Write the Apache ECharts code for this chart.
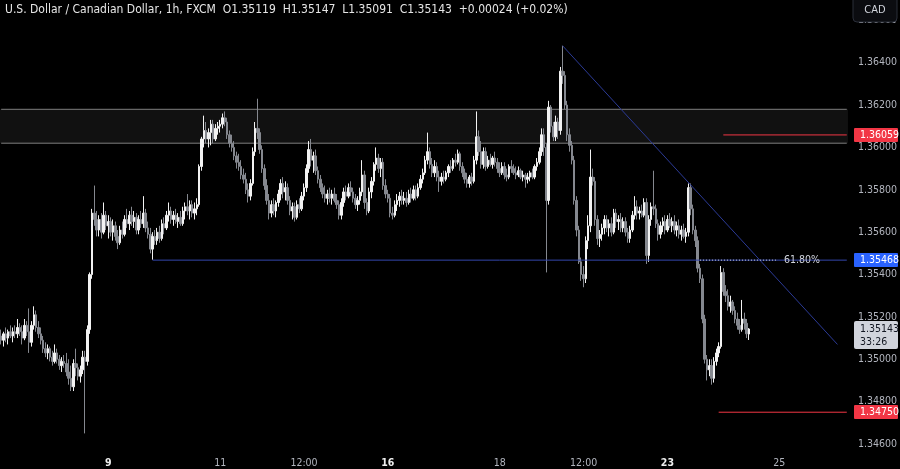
<!DOCTYPE html>
<html><head><meta charset="utf-8">
<script src="https://cdn.jsdelivr.net/npm/echarts@6/dist/echarts.min.js"></script>
<style>html,body{margin:0;padding:0;background:#000;}#c{width:900px;height:469px;}</style>
</head><body><div id="c"></div>
<script>
// trading sessions: [day, firstHour, lastHour] (hourly bars)
const sessions = [[5,2,23],[6,0,16],[8,17,23],[9,0,23],[10,0,23],[11,0,23],[12,0,23],[13,0,16],[15,17,23],
  [16,0,23],[17,0,23],[18,0,23],[19,0,23],[20,0,16],[22,17,23],[23,0,23],[24,0,23],[25,0,23],[26,0,5]];
// tick labels on the time axis: [category, text, bold]
const timeTicks = [['9 00:00','9',true],['11 00:00','11',false],['12 12:00','12:00',false],['16 00:00','16',true],
  ['18 00:00','18',false],['19 12:00','12:00',false],['23 00:00','23',true],['25 00:00','25',false]];
const priceTicks = [1.346,1.348,1.350,1.352,1.354,1.356,1.358,1.360,1.362,1.364,1.366];
// hourly candles [open, high, low, close]
const ohlc = [
[1.3511,1.3514,1.3507,1.3509],[1.3509,1.3513,1.3506,1.3512],[1.3512,1.3515,1.3508,1.3510],[1.3510,1.3514,1.3507,1.3513],
[1.3513,1.3516,1.3510,1.3511],[1.3511,1.3515,1.3508,1.3513],[1.3513,1.3516,1.3510,1.3512],[1.3512,1.3519,1.3510,1.3515],
[1.3515,1.3517,1.3511,1.3513],[1.3513,1.3516,1.3507,1.3510],[1.3510,1.3519,1.3509,1.3516],[1.3516,1.3518,1.3511,1.3513],
[1.3513,1.3524,1.3503,1.3508],[1.3508,1.3518,1.3506,1.3516],[1.3516,1.3525,1.3514,1.3521],[1.3521,1.3523,1.3513,1.3515],
[1.3515,1.3518,1.3510,1.3512],[1.3512,1.3515,1.3507,1.3509],[1.3509,1.3511,1.3503,1.3505],[1.3505,1.3508,1.3501,1.3503],
[1.3503,1.3507,1.3500,1.3505],[1.3505,1.3506,1.3499,1.3501],[1.3501,1.3504,1.3497,1.3499],[1.3499,1.3507,1.3498,1.3503],
[1.3503,1.3505,1.3498,1.3500],[1.3500,1.3502,1.3495,1.3497],[1.3497,1.3501,1.3494,1.3499],[1.3499,1.3502,1.3496,1.3498],
[1.3498,1.3503,1.3492,1.3494],[1.3494,1.3500,1.3488,1.3491],[1.3491,1.3497,1.3485,1.3487],[1.3487,1.3500,1.3485,1.3498],
[1.3498,1.3505,1.3492,1.3496],[1.3496,1.3498,1.3490,1.3492],[1.3492,1.3497,1.3489,1.3495],[1.3495,1.3504,1.3493,1.3501],
[1.3501,1.3504,1.3465,1.3499],[1.3499,1.3516,1.3497,1.3514],[1.3514,1.3541,1.3512,1.3540],[1.3540,1.3571,1.3538,1.3569],
[1.3569,1.3582,1.3563,1.3566],
[1.3566,1.3570,1.3558,1.3561],[1.3561,1.3568,1.3558,1.3566],[1.3566,1.3569,1.3557,1.3560],[1.3560,1.3574,1.3559,1.3568],
[1.3568,1.3570,1.3561,1.3563],[1.3563,1.3568,1.3557,1.3565],[1.3565,1.3567,1.3558,1.3560],[1.3560,1.3566,1.3556,1.3563],
[1.3563,1.3565,1.3556,1.3558],[1.3558,1.3561,1.3552,1.3555],[1.3555,1.3563,1.3554,1.3561],[1.3561,1.3565,1.3557,1.3559],
[1.3559,1.3568,1.3558,1.3566],[1.3566,1.3571,1.3562,1.3564],[1.3564,1.3570,1.3561,1.3568],[1.3568,1.3572,1.3563,1.3565],
[1.3565,1.3570,1.3562,1.3567],[1.3567,1.3569,1.3559,1.3561],[1.3561,1.3568,1.3559,1.3566],[1.3566,1.3570,1.3562,1.3564],
[1.3564,1.3577,1.3562,1.3569],[1.3569,1.3571,1.3560,1.3562],[1.3562,1.3565,1.3557,1.3559],[1.3559,1.3562,1.3550,1.3552],
[1.3552,1.3560,1.3547,1.3558],[1.3558,1.3561,1.3554,1.3556],[1.3556,1.3562,1.3554,1.3560],[1.3560,1.3563,1.3555,1.3557],
[1.3557,1.3566,1.3556,1.3564],[1.3564,1.3567,1.3559,1.3562],[1.3562,1.3570,1.3561,1.3568],[1.3568,1.3574,1.3565,1.3570],
[1.3570,1.3572,1.3564,1.3566],[1.3566,1.3570,1.3563,1.3568],[1.3568,1.3571,1.3564,1.3565],[1.3565,1.3569,1.3562,1.3567],
[1.3567,1.3570,1.3563,1.3564],[1.3564,1.3572,1.3563,1.3570],[1.3570,1.3574,1.3566,1.3572],[1.3572,1.3578,1.3568,1.3570],
[1.3570,1.3575,1.3566,1.3573],[1.3573,1.3575,1.3567,1.3569],[1.3569,1.3574,1.3566,1.3571],[1.3571,1.3576,1.3568,1.3573],
[1.3573,1.3592,1.3572,1.3591],[1.3591,1.3605,1.3589,1.3604],[1.3604,1.3615,1.3600,1.3608],
[1.3608,1.3612,1.3602,1.3604],[1.3604,1.3609,1.3600,1.3607],[1.3607,1.3613,1.3601,1.3611],[1.3611,1.3613,1.3602,1.3604],
[1.3604,1.3611,1.3603,1.3609],[1.3609,1.3612,1.3606,1.3610],[1.3610,1.3613,1.3607,1.3611],[1.3611,1.3616,1.3609,1.3614],
[1.3614,1.3617,1.3610,1.3612],[1.3612,1.3614,1.3604,1.3606],[1.3606,1.3608,1.3600,1.3602],[1.3602,1.3606,1.3598,1.3600],
[1.3600,1.3603,1.3594,1.3596],[1.3596,1.3598,1.3590,1.3593],[1.3593,1.3597,1.3589,1.3591],[1.3591,1.3594,1.3585,1.3587],
[1.3587,1.3590,1.3583,1.3585],[1.3585,1.3588,1.3578,1.3580],[1.3580,1.3583,1.3574,1.3577],[1.3577,1.3585,1.3575,1.3583],
[1.3583,1.3600,1.3582,1.3598],[1.3598,1.3612,1.3596,1.3609],[1.3609,1.3623,1.3604,1.3607],[1.3607,1.3609,1.3597,1.3599],
[1.3599,1.3601,1.3588,1.3590],[1.3590,1.3592,1.3580,1.3582],[1.3582,1.3585,1.3573,1.3575],[1.3575,1.3578,1.3566,1.3569],
[1.3569,1.3575,1.3567,1.3573],[1.3573,1.3576,1.3568,1.3570],[1.3570,1.3575,1.3567,1.3574],[1.3574,1.3580,1.3572,1.3578],
[1.3578,1.3585,1.3575,1.3583],[1.3583,1.3586,1.3576,1.3579],[1.3579,1.3584,1.3575,1.3581],[1.3581,1.3583,1.3573,1.3575],
[1.3575,1.3577,1.3568,1.3570],[1.3570,1.3574,1.3566,1.3572],[1.3572,1.3574,1.3565,1.3567],[1.3567,1.3575,1.3566,1.3573],
[1.3573,1.3576,1.3569,1.3571],[1.3571,1.3579,1.3570,1.3577],[1.3577,1.3583,1.3575,1.3581],[1.3581,1.3592,1.3579,1.3590],
[1.3590,1.3603,1.3588,1.3599],[1.3599,1.3604,1.3591,1.3594],[1.3594,1.3598,1.3588,1.3596],[1.3596,1.3599,1.3587,1.3589],
[1.3589,1.3591,1.3583,1.3585],[1.3585,1.3587,1.3579,1.3581],[1.3581,1.3583,1.3576,1.3578],[1.3578,1.3582,1.3574,1.3576],
[1.3576,1.3580,1.3573,1.3578],
[1.3578,1.3581,1.3574,1.3576],[1.3576,1.3580,1.3573,1.3578],[1.3578,1.3581,1.3574,1.3575],[1.3575,1.3578,1.3571,1.3573],
[1.3573,1.3575,1.3566,1.3568],[1.3568,1.3576,1.3566,1.3574],[1.3574,1.3581,1.3572,1.3579],[1.3579,1.3582,1.3575,1.3577],
[1.3577,1.3583,1.3576,1.3581],[1.3581,1.3584,1.3577,1.3579],[1.3579,1.3581,1.3574,1.3576],[1.3576,1.3578,1.3571,1.3573],
[1.3573,1.3577,1.3570,1.3575],[1.3575,1.3581,1.3573,1.3579],[1.3579,1.3594,1.3577,1.3587],[1.3587,1.3589,1.3571,1.3574],
[1.3574,1.3576,1.3568,1.3570],[1.3570,1.3581,1.3569,1.3579],[1.3579,1.3586,1.3576,1.3584],[1.3584,1.3593,1.3582,1.3592],
[1.3592,1.3600,1.3589,1.3595],[1.3595,1.3597,1.3588,1.3590],[1.3590,1.3595,1.3586,1.3593],[1.3593,1.3595,1.3580,1.3582],
[1.3582,1.3585,1.3576,1.3578],[1.3578,1.3580,1.3574,1.3576],[1.3576,1.3578,1.3567,1.3569],[1.3569,1.3572,1.3566,1.3568],
[1.3568,1.3575,1.3567,1.3573],[1.3573,1.3578,1.3570,1.3575],[1.3575,1.3579,1.3572,1.3577],[1.3577,1.3580,1.3573,1.3575],
[1.3575,1.3579,1.3573,1.3576],[1.3576,1.3579,1.3572,1.3574],[1.3574,1.3580,1.3573,1.3578],[1.3578,1.3581,1.3574,1.3576],
[1.3576,1.3582,1.3575,1.3580],[1.3580,1.3582,1.3575,1.3577],[1.3577,1.3583,1.3576,1.3581],[1.3581,1.3587,1.3580,1.3585],
[1.3585,1.3590,1.3583,1.3588],[1.3588,1.3596,1.3587,1.3594],[1.3594,1.3607,1.3592,1.3598],[1.3598,1.3600,1.3590,1.3592],
[1.3592,1.3595,1.3586,1.3588],[1.3588,1.3594,1.3586,1.3591],[1.3591,1.3593,1.3584,1.3586],[1.3586,1.3589,1.3579,1.3584],
[1.3584,1.3588,1.3582,1.3586],[1.3586,1.3589,1.3583,1.3585],[1.3585,1.3589,1.3584,1.3588],[1.3588,1.3592,1.3586,1.3591],
[1.3591,1.3594,1.3588,1.3590],[1.3590,1.3595,1.3589,1.3594],[1.3594,1.3597,1.3591,1.3593],[1.3593,1.3599,1.3592,1.3597],
[1.3597,1.3598,1.3589,1.3591],[1.3591,1.3593,1.3586,1.3588],[1.3588,1.3590,1.3583,1.3585],[1.3585,1.3588,1.3581,1.3583],
[1.3583,1.3587,1.3581,1.3586],[1.3586,1.3588,1.3582,1.3584],[1.3584,1.3596,1.3583,1.3594],[1.3594,1.3617,1.3592,1.3605],
[1.3605,1.3608,1.3596,1.3598],[1.3598,1.3603,1.3590,1.3592],[1.3592,1.3600,1.3590,1.3598],[1.3598,1.3600,1.3589,1.3591],
[1.3591,1.3596,1.3590,1.3594],[1.3594,1.3597,1.3591,1.3592],[1.3592,1.3596,1.3590,1.3595],[1.3595,1.3598,1.3591,1.3593],
[1.3593,1.3595,1.3588,1.3590],[1.3590,1.3593,1.3586,1.3588],[1.3588,1.3593,1.3587,1.3591],[1.3591,1.3593,1.3585,1.3587],
[1.3587,1.3590,1.3584,1.3586],[1.3586,1.3592,1.3585,1.3591],[1.3591,1.3594,1.3588,1.3590],[1.3590,1.3592,1.3587,1.3588],
[1.3588,1.3591,1.3585,1.3587],[1.3587,1.3591,1.3586,1.3589],[1.3589,1.3590,1.3585,1.3586],[1.3586,1.3589,1.3584,1.3587],
[1.3587,1.3588,1.3581,1.3585],[1.3585,1.3588,1.3583,1.3586],[1.3586,1.3589,1.3584,1.3588],[1.3588,1.3590,1.3585,1.3586],
[1.3586,1.3592,1.3585,1.3591],
[1.3591,1.3595,1.3589,1.3593],[1.3593,1.3600,1.3592,1.3598],[1.3598,1.3609,1.3596,1.3606],[1.3606,1.3609,1.3596,1.3600],
[1.3600,1.3602,1.3541,1.3575],[1.3575,1.3622,1.3573,1.3619],[1.3619,1.3620,1.3607,1.3610],[1.3610,1.3612,1.3603,1.3605],
[1.3605,1.3615,1.3603,1.3612],[1.3612,1.3614,1.3604,1.3608],[1.3608,1.3638,1.3606,1.3636],[1.3636,1.3648,1.3630,1.3634],
[1.3634,1.3636,1.3618,1.3620],[1.3620,1.3622,1.3603,1.3606],[1.3606,1.3609,1.3598,1.3601],[1.3601,1.3603,1.3592,1.3594],
[1.3594,1.3596,1.3573,1.3575],[1.3575,1.3577,1.3558,1.3561],[1.3561,1.3563,1.3545,1.3546],[1.3546,1.3548,1.3537,1.3540],
[1.3540,1.3544,1.3534,1.3538],[1.3538,1.3558,1.3536,1.3556],[1.3556,1.3568,1.3552,1.3563],[1.3563,1.3599,1.3560,1.3586],
[1.3586,1.3590,1.3582,1.3584],[1.3584,1.3586,1.3563,1.3566],[1.3566,1.3568,1.3554,1.3557],[1.3557,1.3561,1.3553,1.3559],
[1.3559,1.3564,1.3556,1.3562],[1.3562,1.3568,1.3559,1.3566],[1.3566,1.3568,1.3560,1.3562],[1.3562,1.3566,1.3558,1.3564],
[1.3564,1.3567,1.3558,1.3560],[1.3560,1.3571,1.3559,1.3569],
[1.3569,1.3571,1.3562,1.3565],[1.3565,1.3568,1.3561,1.3566],[1.3566,1.3569,1.3560,1.3562],[1.3562,1.3567,1.3560,1.3565],
[1.3565,1.3567,1.3558,1.3560],[1.3560,1.3562,1.3555,1.3557],[1.3557,1.3563,1.3555,1.3561],[1.3561,1.3570,1.3560,1.3568],
[1.3568,1.3577,1.3566,1.3572],[1.3572,1.3575,1.3566,1.3569],[1.3569,1.3572,1.3566,1.3570],[1.3570,1.3573,1.3567,1.3568],
[1.3568,1.3576,1.3567,1.3574],[1.3574,1.3576,1.3545,1.3549],[1.3549,1.3568,1.3546,1.3566],[1.3566,1.3574,1.3563,1.3572],
[1.3572,1.3589,1.3568,1.3571],[1.3571,1.3573,1.3562,1.3564],[1.3564,1.3566,1.3556,1.3559],[1.3559,1.3565,1.3557,1.3563],
[1.3563,1.3567,1.3560,1.3565],[1.3565,1.3568,1.3559,1.3561],[1.3561,1.3568,1.3560,1.3566],[1.3566,1.3569,1.3562,1.3563],
[1.3563,1.3567,1.3560,1.3565],[1.3565,1.3568,1.3559,1.3561],[1.3561,1.3565,1.3558,1.3563],[1.3563,1.3566,1.3557,1.3559],
[1.3559,1.3563,1.3556,1.3561],[1.3561,1.3564,1.3557,1.3558],[1.3558,1.3562,1.3555,1.3560],[1.3560,1.3583,1.3558,1.3581],
[1.3581,1.3583,1.3568,1.3571],[1.3571,1.3573,1.3559,1.3561],[1.3561,1.3563,1.3553,1.3556],[1.3556,1.3558,1.3541,1.3543],
[1.3543,1.3545,1.3536,1.3538],[1.3538,1.3540,1.3517,1.3519],[1.3519,1.3521,1.3498,1.3500],[1.3500,1.3502,1.3490,1.3495],
[1.3495,1.3500,1.3492,1.3497],[1.3497,1.3500,1.3488,1.3491],[1.3491,1.3501,1.3489,1.3499],[1.3499,1.3505,1.3497,1.3503],
[1.3503,1.3508,1.3501,1.3506],[1.3506,1.3544,1.3505,1.3541],[1.3541,1.3543,1.3530,1.3532],[1.3532,1.3535,1.3527,1.3530],
[1.3530,1.3533,1.3523,1.3525],[1.3525,1.3530,1.3522,1.3527],[1.3527,1.3528,1.3521,1.3523],[1.3523,1.3525,1.3517,1.3519],
[1.3519,1.3522,1.3514,1.3516],[1.3516,1.3519,1.3512,1.3514],[1.3514,1.3528,1.3513,1.3519],[1.3519,1.3522,1.3514,1.3517],
[1.3517,1.3519,1.3510,1.3512],[1.35119,1.35147,1.35091,1.35143]
];
const zoneTop = 1.3618, zoneBottom = 1.3602;
const redLevelHigh = 1.36059, redLevelLow = 1.34750, fibLevel = 1.35468;
const trendLine = [['19 03:00', 1.3648], ['26 01:00', 1.3507]];
const fibStart = '9 19:00', fibDotStart = '23 14:00', fibDotEnd = '24 23:00', fibText = '61.80%';
const redHighStart = '24 00:00', redLowStart = '23 22:00';
const titleText = 'U.S. Dollar / Canadian Dollar, 1h, FXCM  O1.35119  H1.35147  L1.35091  C1.35143  +0.00024 (+0.02%)';
const countdown = '33:26';

const categories = [];
sessions.forEach(([d, h0, h1]) => { for (let h = h0; h <= h1; h++) categories.push(d + ' ' + String(h).padStart(2, '0') + ':00'); });
const firstCat = categories[0], lastCat = categories[categories.length - 1];
const tickMap = {}; timeTicks.forEach(t => tickMap[t[0]] = t);
const candleData = ohlc.map(r => [r[0], r[3], r[2], r[1]]);

const FONT = "'Liberation Sans Narrow','DejaVu Sans Condensed','Roboto Condensed','Liberation Sans',sans-serif";
const chart = echarts.init(document.getElementById('c'));
const seg = (a, b, color, z, extra) => Object.assign({
  type: 'line', data: [a, b], showSymbol: false, symbol: 'none', silent: true, z: z,
  lineStyle: {color: color, width: 1, type: 'solid'}
}, extra || {});

chart.setOption({
  animation: false,
  backgroundColor: '#000000',
  grid: {left: 0, right: 47, top: 0, bottom: 17},
  xAxis: {
    type: 'category', data: categories, boundaryGap: true,
    axisLine: {show: false}, axisTick: {show: false}, splitLine: {show: false},
    axisLabel: {
      interval: (i, v) => !!tickMap[v], margin: 6, fontFamily: FONT, fontSize: 10.5, color: '#b2b5be',
      formatter: v => tickMap[v] ? (tickMap[v][2] ? '{b|' + tickMap[v][1] + '}' : tickMap[v][1]) : '',
      rich: {b: {fontWeight: 'bold', color: '#eeeeee', fontFamily: FONT, fontSize: 10.5}}
    }
  },
  yAxis: {
    type: 'value', position: 'right', scale: true, min: 1.345622, max: 1.366960,
    axisLine: {show: false}, axisTick: {show: false}, splitLine: {show: false},
    axisLabel: {customValues: priceTicks, margin: 10, fontFamily: FONT, fontSize: 10.5, color: '#b2b5be',
      formatter: v => v.toFixed(5)}
  },
  series: [
    {type: 'line', data: [], z: 0, silent: true,
      markArea: {silent: true, itemStyle: {color: '#111111', opacity: 1}, data: [[{yAxis: zoneTop}, {yAxis: zoneBottom}]]}
    },
    seg([firstCat, zoneTop], [lastCat, zoneTop], '#7e7e7e', 1),
    seg([firstCat, zoneBottom], [lastCat, zoneBottom], '#7e7e7e', 1),
    {type: 'candlestick', data: candleData, z: 2, barWidth: 2, silent: true,
      itemStyle: {color: '#f2f2f2', color0: '#85888f', borderColor: '#f2f2f2', borderColor0: '#85888f', borderWidth: 1}
    },
    seg([fibStart, fibLevel], [lastCat, fibLevel], '#3446ad', 4),
    seg(trendLine[0], trendLine[1], '#2b3a96', 4),
    seg([redHighStart, redLevelHigh], [lastCat, redLevelHigh], '#f23645', 6),
    seg([redLowStart, redLevelLow], [lastCat, redLevelLow], '#f23645', 6),
    seg([fibDotStart, fibLevel], [fibDotEnd, fibLevel], '#c8cad0', 6, {
      lineStyle: {color: '#c8cad0', width: 1, type: [1, 2]},
      endLabel: {show: true, formatter: fibText, color: '#d1d4dc', fontFamily: FONT, fontSize: 10.5, distance: 7}
    })
  ]
});

const yPx = v => chart.convertToPixel({yAxisIndex: 0}, v);
const tagX = 854, tagW = 44, textX = 860;
const tag = (v, bg, fg) => [
  {type: 'rect', shape: {x: tagX, y: Math.round(yPx(v)) - 7, width: tagW, height: 14, r: 1}, style: {fill: bg}, z: 10},
  {type: 'text', x: textX, y: Math.round(yPx(v)), style: {text: v.toFixed(5), fill: fg, font: '10.5px ' + FONT, textVerticalAlign: 'middle'}, z: 11}
];
const last = ohlc[ohlc.length - 1][3];
const ly = Math.round(yPx(last));
chart.setOption({graphic: [].concat(
  tag(redLevelHigh, '#f23645', '#ffffff'),
  tag(fibLevel, '#2962ff', '#ffffff'),
  tag(redLevelLow, '#f23645', '#ffffff'),
  [
    {type: 'rect', shape: {x: tagX, y: ly - 8, width: tagW, height: 28, r: 2}, style: {fill: '#d1d4dc'}, z: 10},
    {type: 'text', x: textX, y: ly, style: {text: last.toFixed(5), fill: '#131722', font: '10.5px ' + FONT, textVerticalAlign: 'middle'}, z: 11},
    {type: 'text', x: textX, y: ly + 13, style: {text: countdown, fill: '#131722', font: '10.5px ' + FONT, textVerticalAlign: 'middle'}, z: 11},
    {type: 'rect', shape: {x: 853, y: -4, width: 44, height: 26, r: 4}, style: {fill: '#0b0c10', stroke: '#2a2e39', lineWidth: 1}, z: 12},
    {type: 'text', x: 875, y: 10, style: {text: 'CAD', fill: '#d1d4dc', font: '11px ' + FONT, textAlign: 'center', textVerticalAlign: 'middle'}, z: 13},
    {type: 'text', x: 5, y: 10, style: {text: titleText, fill: '#e6e6e6', font: '12px ' + FONT, textVerticalAlign: 'middle'}, z: 13}
  ]
)});
</script></body></html>
